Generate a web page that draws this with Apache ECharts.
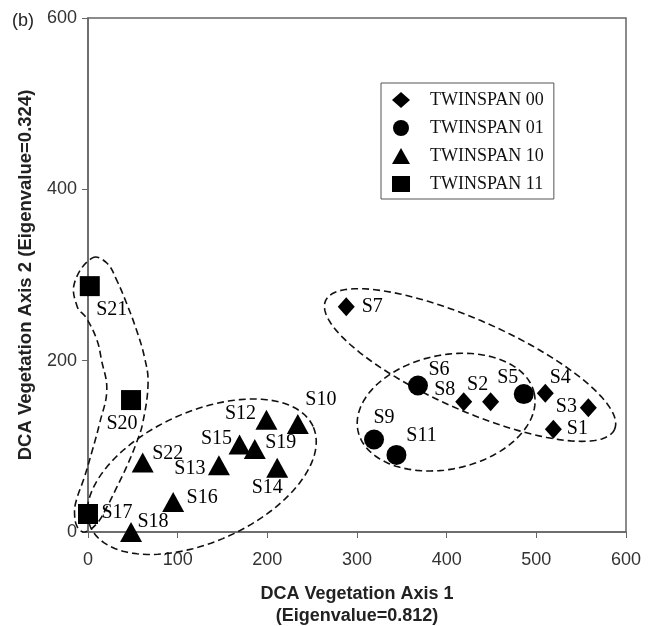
<!DOCTYPE html>
<html>
<head>
<meta charset="utf-8">
<script src="https://cdn.jsdelivr.net/npm/echarts@6/dist/echarts.min.js"></script>
<style>
  html, body { margin: 0; padding: 0; background: #fff; }
  #chart { width: 659px; height: 626px; }
</style>
</head>
<body>
<div id="chart"></div>
<script>
// TWINSPAN groups: site names and DCA scores
const sites00 = ['S1', 'S2', 'S3', 'S4', 'S7', 'S8']
const x00 = [519, 449, 558, 510, 288, 419]
const y00 = [120, 152, 145, 162, 263, 152]

const sites01 = ['S5', 'S6', 'S9', 'S11']
const x01 = [486, 368, 319, 344]
const y01 = [161, 171, 108, 90]

const sites10 = ['S10', 'S12', 'S13', 'S14', 'S15', 'S16', 'S18', 'S19', 'S22']
const x10 = [234, 199, 146, 211, 169, 95, 48, 186, 61]
const y10 = [126, 131, 78, 75, 102, 35, 0, 97, 81]

const sites11 = ['S17', 'S20', 'S21']
const x11 = [0, 48, 2]
const y11 = [21, 154, 287]

const xTicks = [0, 100, 200, 300, 400, 500, 600]
const yTicks = [0, 200, 400, 600]

// dashed group outlines: [centerX, centerY, semiAxisA, semiAxisB, angle(deg)] in axis units
const ellipses = [
  [126.9, 64.5, 136.2, 72.6, 24.3],
  [399.4, 139.9, 100.5, 63.6, 12],
  [426.1, 194.9, 176.4, 50.2, -24]
]
// the curved outline around TWINSPAN 11
const outline11 = [
  [5, 320], [21, 314], [32, 294], [43, 267], [54, 236], [63, 204], [67, 174],
  [61, 127], [54, 104], [43, 76], [32, 52], [21, 29], [10, 10], [-4, 0],
  [-12, 6], [-15, 22], [-13, 37], [-4, 64], [5, 96], [13, 127], [21, 166],
  [15, 201], [10, 224], [-2, 250], [-12, 263], [-15, 291]
]

// label offsets in pixels from the marker centre
const labelPos = {
  S1: [24, 0], S2: [-13, -17], S3: [-22, -1], S4: [15, -15], S7: [26, 0], S8: [-19, -12],
  S5: [-16, -16], S6: [21, -16], S9: [10, -22], S11: [25, -19],
  S10: [23, -24], S12: [-26, -6], S13: [-29, 4], S14: [-10, 20], S15: [-23, -6],
  S16: [29, -4], S18: [22, -10], S19: [26, -6], S22: [25, -9],
  S17: [29, -1], S20: [-9, 24], S21: [22, 24]
}

const groups = [
  { name: 'TWINSPAN 00', sites: sites00, xs: x00, ys: y00, symbol: 'diamond', size: [17, 19] },
  { name: 'TWINSPAN 01', sites: sites01, xs: x01, ys: y01, symbol: 'circle', size: 20 },
  { name: 'TWINSPAN 10', sites: sites10, xs: x10, ys: y10, symbol: 'triangle', size: [22, 20] },
  { name: 'TWINSPAN 11', sites: sites11, xs: x11, ys: y11, symbol: 'rect', size: 20 }
]

const dashStyle = { fill: 'none', stroke: '#111', lineWidth: 1.6, lineDash: [7, 4] }

const scatterSeries = groups.map((g) => ({
  name: g.name,
  type: 'scatter',
  symbol: g.symbol,
  symbolSize: g.size,
  z: 5,
  itemStyle: { color: '#000', opacity: 1 },
  data: g.sites.map((s, i) => ({
    name: s,
    value: [g.xs[i], g.ys[i]],
    label: { offset: labelPos[s] }
  })),
  label: {
    show: true,
    position: 'inside',
    align: 'center',
    verticalAlign: 'middle',
    formatter: '{b}',
    color: '#000',
    fontFamily: 'Liberation Serif',
    fontSize: 20
  }
}))

const chart = echarts.init(document.getElementById('chart'))
chart.setOption({
  animation: false,
  textStyle: { fontFamily: 'Liberation Sans' },
  graphic: [
    { type: 'text', left: 12, top: 12, style: { text: '(b)', fontSize: 18, fontFamily: 'Liberation Sans', fill: '#222' } }
  ],
  grid: {
    left: 88, right: 33, top: 18, bottom: 94,
    outerBoundsMode: 'none',
    show: true, borderColor: '#666', borderWidth: 1.5
  },
  legend: {
    orient: 'vertical',
    left: 381,
    top: 83,
    data: groups.map((g) => g.name),
    itemWidth: 18,
    itemHeight: 16,
    itemGap: 10,
    padding: [8, 10, 6, 11],
    borderColor: '#555',
    borderWidth: 1,
    textStyle: { fontFamily: 'Liberation Serif', fontSize: 18, color: '#111', lineHeight: 18, padding: [0, 0, 0, 15] }
  },
  xAxis: {
    type: 'value',
    min: xTicks[0],
    max: xTicks[xTicks.length - 1],
    interval: 100,
    name: 'DCA Vegetation Axis 1\n(Eigenvalue=0.812)',
    nameLocation: 'middle',
    nameGap: 51,
    nameTextStyle: { fontSize: 18, fontWeight: 'bold', color: '#222', lineHeight: 22 },
    axisLine: { onZero: false, lineStyle: { color: '#666', width: 1.5 } },
    axisTick: { length: 6, lineStyle: { color: '#666' } },
    axisLabel: { margin: 19, fontSize: 18, color: '#333' },
    splitLine: { show: false }
  },
  yAxis: {
    type: 'value',
    min: yTicks[0],
    max: yTicks[yTicks.length - 1],
    interval: 200,
    name: 'DCA Vegetation Axis 2 (Eigenvalue=0.324)',
    nameLocation: 'middle',
    nameGap: 53,
    nameTextStyle: { fontSize: 18.5, fontWeight: 'bold', color: '#222' },
    axisLine: { onZero: false, lineStyle: { color: '#666', width: 1.5 } },
    axisTick: { length: 6, lineStyle: { color: '#666' } },
    axisLabel: { margin: 11, fontSize: 18, color: '#333' },
    splitLine: { show: false }
  },
  series: [
    {
      type: 'custom',
      silent: true,
      z: 2,
      data: ellipses,
      renderItem(params, api) {
        const c = api.coord([api.value(0), api.value(1)])
        const a = api.size([api.value(2), 0])[0]
        const b = api.size([api.value(3), 0])[0]
        const t = (api.value(4) * Math.PI) / 180
        const points = []
        for (let k = 0; k < 120; k++) {
          const u = (k / 120) * Math.PI * 2
          const ex = a * Math.cos(u)
          const ey = b * Math.sin(u)
          points.push([c[0] + ex * Math.cos(t) - ey * Math.sin(t), c[1] - (ex * Math.sin(t) + ey * Math.cos(t))])
        }
        return { type: 'polygon', shape: { points }, style: dashStyle }
      }
    },
    {
      type: 'custom',
      silent: true,
      z: 2,
      data: [[0, 0]],
      renderItem(params, api) {
        const points = outline11.map((p) => api.coord(p))
        return { type: 'polygon', shape: { points, smooth: 0.4 }, style: dashStyle }
      }
    },
    ...scatterSeries
  ]
})
</script>
</body>
</html>
